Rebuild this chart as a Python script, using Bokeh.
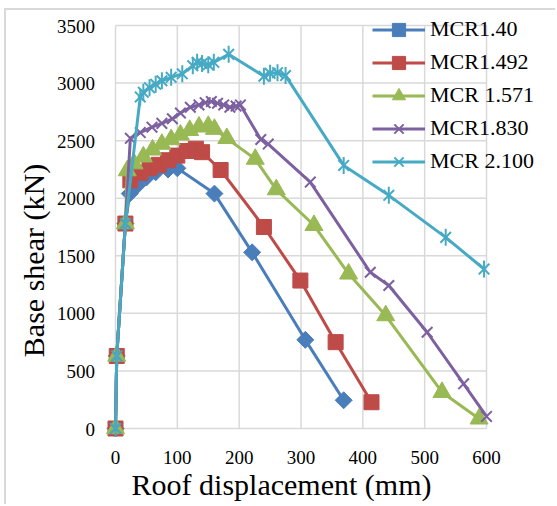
import math
from bokeh.plotting import figure
from bokeh.models import Range1d, Legend, LegendItem, Label
from bokeh.embed import file_html
from bokeh.resources import INLINE

# ---- data ----
x_ticks = [0, 100, 200, 300, 400, 500, 600]
y_ticks = [0, 500, 1000, 1500, 2000, 2500, 3000, 3500]
x_tick_labels = [str(t) for t in x_ticks]
y_tick_labels = [str(t) for t in y_ticks]

series_names = ["MCR1.40", "MCR1.492", "MCR 1.571", "MCR1.830", "MCR 2.100"]

mcr140_x = [0, 2, 16, 23, 35, 50, 65, 85, 100, 160, 221, 307, 369]
mcr140_y = [0, 630, 1780, 2040, 2110, 2180, 2225, 2250, 2260, 2040, 1530, 770, 245]

mcr1492_x = [0, 2, 16, 24, 40, 55, 70, 85, 100, 115, 130, 140, 170, 240, 299, 356, 414]
mcr1492_y = [0, 630, 1780, 2155, 2220, 2260, 2290, 2330, 2370, 2410, 2430, 2400, 2245, 1750, 1285, 750, 228]

mcr1571_x = [0, 2, 16, 19, 30, 45, 60, 75, 90, 105, 120, 135, 150, 160, 180, 226, 260, 321, 377, 437, 528, 588]
mcr1571_y = [0, 630, 1780, 2240, 2300, 2360, 2420, 2470, 2510, 2550, 2590, 2620, 2625, 2600, 2520, 2340, 2075, 1765, 1343, 981, 315, 84]

mcr1830_x = [0, 2, 16, 24, 40, 59, 75, 92, 105, 121, 135, 145, 155, 165, 175, 185, 195, 202, 235, 247, 315, 412, 442, 504, 563, 600]
mcr1830_y = [0, 630, 1780, 2520, 2570, 2617, 2650, 2690, 2740, 2790, 2810, 2830, 2840, 2825, 2810, 2790, 2800, 2810, 2510, 2470, 2140, 1357, 1242, 836, 388, 105]

mcr2100_x = [0, 2, 16, 40, 45, 55, 65, 75, 90, 108, 125, 132, 140, 150, 159, 183, 240, 250, 262, 275, 369, 442, 534, 596]
mcr2100_y = [0, 630, 1780, 2880, 2920, 2960, 2990, 3020, 3050, 3080, 3150, 3180, 3170, 3160, 3180, 3250, 3060, 3085, 3090, 3065, 2285, 2025, 1660, 1385]

colors = ["#4A7EBB", "#BE4B48", "#98B954", "#7D60A0", "#46AAC5"]

FONT = "Liberation Serif, Times New Roman, serif"
GRID = "#d9d9d9"

# pixel -> data conversion factors of the frame (for text offsets)
PX_X = 730.97 / 551.0
PX_Y = 4307.7 / 496.0

# ---- figure: the frame covers the whole chart area ----
p = figure(width=551, height=496, output_backend="svg", toolbar_location=None,
           x_range=Range1d(-176.28, 714.8),
           y_range=Range1d(-677.4, 3630.3),
           x_axis_location=None, y_axis_location=None,
           min_border=0, min_border_left=0, min_border_right=0,
           min_border_top=0, min_border_bottom=0)
p.styles = {"border-left": "2px solid #d9d9d9", "border-top": "2px solid #d9d9d9",
            "margin-left": "4px", "margin-top": "8px"}
p.outline_line_color = None
p.grid.visible = False
p.background_fill_color = "white"
p.border_fill_color = "white"

# gridlines from tick arrays
p.segment(x0=x_ticks, y0=[y_ticks[0]] * len(x_ticks), x1=x_ticks, y1=[y_ticks[-1]] * len(x_ticks),
          line_color=GRID, line_width=1.5)
p.segment(x0=[x_ticks[0]] * len(y_ticks), y0=y_ticks, x1=[x_ticks[-1]] * len(y_ticks), y1=y_ticks,
          line_color=GRID, line_width=1.5)

# tick labels
for t, lab in zip(x_ticks, x_tick_labels):
    p.add_layout(Label(x=t, y=y_ticks[0] - 29.4 * PX_Y, text=lab, text_align="center",
                       text_baseline="alphabetic", text_font=FONT, text_font_size="19px",
                       text_color="#000000"))
for t, lab in zip(y_ticks, y_tick_labels):
    p.add_layout(Label(x=x_ticks[0] - 25 * PX_X, y=t - 0.5 * PX_Y, text=lab, text_align="right",
                       text_baseline="alphabetic", text_font=FONT, text_font_size="19px",
                       text_color="#000000"))

data = [(mcr140_x, mcr140_y), (mcr1492_x, mcr1492_y), (mcr1571_x, mcr1571_y),
        (mcr1830_x, mcr1830_y), (mcr2100_x, mcr2100_y)]

items = []
for i, ((xs, ys), name, c) in enumerate(zip(data, series_names, colors)):
    rends = [p.line(xs, ys, line_color=c, line_width=3)]
    if i == 0:
        rends.append(p.scatter(xs, ys, marker="square", size=12, angle=math.pi / 4,
                               fill_color=c, line_color=c))
    elif i == 1:
        rends.append(p.scatter(xs, ys, marker="square", size=15, fill_color=c, line_color=c))
    elif i == 2:
        rends.append(p.scatter(xs, ys, marker="triangle", size=18, fill_color=c, line_color=c))
    elif i == 3:
        rends.append(p.scatter(xs, ys, marker="x", size=15, line_color=c, line_width=2))
    else:
        rends.append(p.scatter(xs, ys, marker="x", size=15, line_color=c, line_width=2))
        rends.append(p.scatter(xs, ys, marker="dash", size=17, angle=math.pi / 2,
                               line_color=c, line_width=2))
    items.append(LegendItem(label=name, renderers=rends))

legend = Legend(items=items, location=(366, 328.5), padding=0, margin=0, spacing=0,
                glyph_width=53, glyph_height=33, label_height=33, label_standoff=5,
                background_fill_alpha=0, border_line_color=None,
                label_text_font=FONT, label_text_font_size="22px",
                label_text_font_style="normal", label_text_color="#000000")
p.add_layout(legend)

# axis titles
p.add_layout(Label(x=268.5, y=-599.3 + 13 * PX_Y, text="Roof displacement (mm)",
                   text_align="center", text_baseline="alphabetic", text_font=FONT,
                   text_font_size="30px", text_color="#000000"))
p.add_layout(Label(x=-111.6 - 16 * PX_X, y=1459, text="Base shear (kN)", text_align="center",
                   text_baseline="alphabetic", angle=math.pi / 2, text_font=FONT,
                   text_font_size="30px", text_color="#000000"))

open("out.html", "w").write(file_html(p, INLINE))
